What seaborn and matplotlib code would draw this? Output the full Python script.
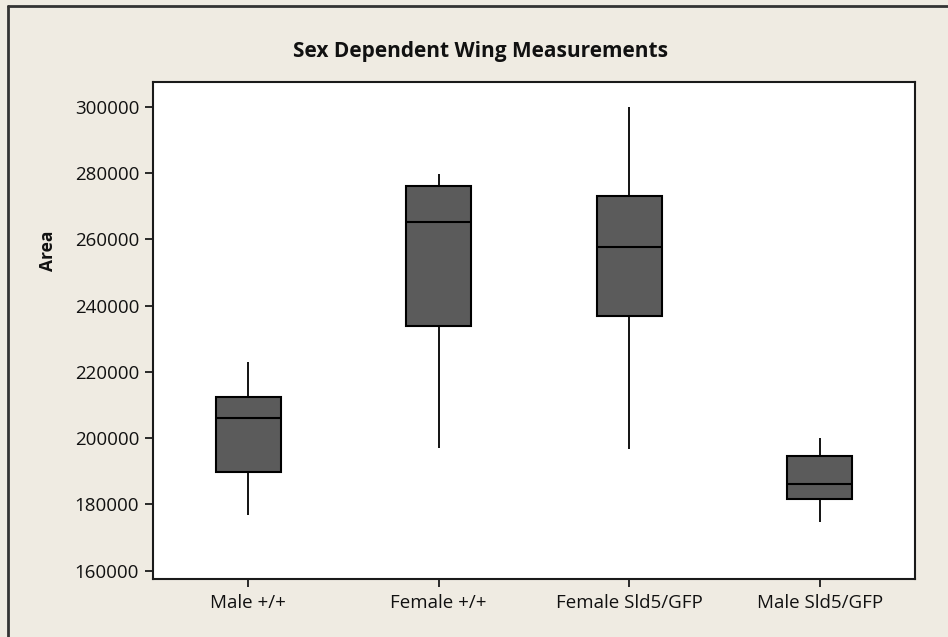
import numpy as np
import pandas as pd
import matplotlib
matplotlib.use("Agg")
import matplotlib.pyplot as plt
from matplotlib.lines import Line2D
import seaborn as sns

# Five-number summaries (min, Q1, median, Q3, max)
categories = ["Male +/+", "Female +/+", "Female Sld5/GFP", "Male Sld5/GFP"]
male_wt = [176800, 189700, 206000, 212500, 223000]
female_wt = [197100, 233800, 265200, 276200, 279700]
female_sld5 = [196600, 236900, 257800, 273200, 300000]
male_sld5 = [174600, 181700, 186100, 194500, 200000]
yticks = [160000, 180000, 200000, 220000, 240000, 260000, 280000, 300000]

series = [male_wt, female_wt, female_sld5, male_sld5]
df = pd.DataFrame({
    "group": [c for c, s in zip(categories, series) for _ in s],
    "Area": [v for s in series for v in s],
})

sns.set_style("white")
FONT = ["Open Sans", "DejaVu Sans"]
plt.rcParams["font.family"] = FONT

BG = "#efebe2"
W, H = 948, 637
fig = plt.figure(figsize=(W / 100, H / 100), dpi=100, facecolor=BG)
ax = fig.add_axes([153 / W, 1 - 579 / H, (915 - 153) / W, (579 - 82) / H])
ax.set_facecolor("white")

sns.boxplot(data=df, x="group", y="Area", order=categories, ax=ax,
            whis=(0, 100), showcaps=False, width=0.34, color="#5b5b5b",
            saturation=1, linecolor="black", linewidth=1.5,
            whiskerprops={"linewidth": 1.3}, flierprops={"marker": ""})

ax.set_xlim(-0.5, 3.5)
ax.set_ylim(157500, 307450)
ax.set_yticks(yticks)
ax.set_yticklabels([str(v) for v in yticks])
ax.set_xlabel("")
ax.set_ylabel("")
for sp in ax.spines.values():
    sp.set_visible(True)
    sp.set_linewidth(1.5)
    sp.set_color("#1a1a1a")
ax.tick_params(axis="both", direction="out", length=6, width=1.3, color="#1a1a1a",
               labelsize=13.5, labelcolor="#111111", left=True, bottom=True)
ax.tick_params(axis="x", pad=5)
ax.tick_params(axis="y", pad=4)

fig.text(481 / W, 1 - 51 / H, "Sex Dependent Wing Measurements", ha="center", va="center",
         fontsize=15, fontweight="bold", color="#111111")
fig.text(48 / W, 1 - 251 / H, "Area", ha="center", va="center", rotation=90,
         fontsize=12.5, fontweight="bold", color="#111111")

# outer frame (top and left visible)
fig.add_artist(Line2D([8 / W, 8 / W], [0, 1 - 6 / H], transform=fig.transFigure,
                      color="#333333", linewidth=2))
fig.add_artist(Line2D([8 / W, 1], [1 - 6 / H, 1 - 6 / H], transform=fig.transFigure,
                      color="#333333", linewidth=2))

fig.savefig("out.png", dpi=100, facecolor=BG)
